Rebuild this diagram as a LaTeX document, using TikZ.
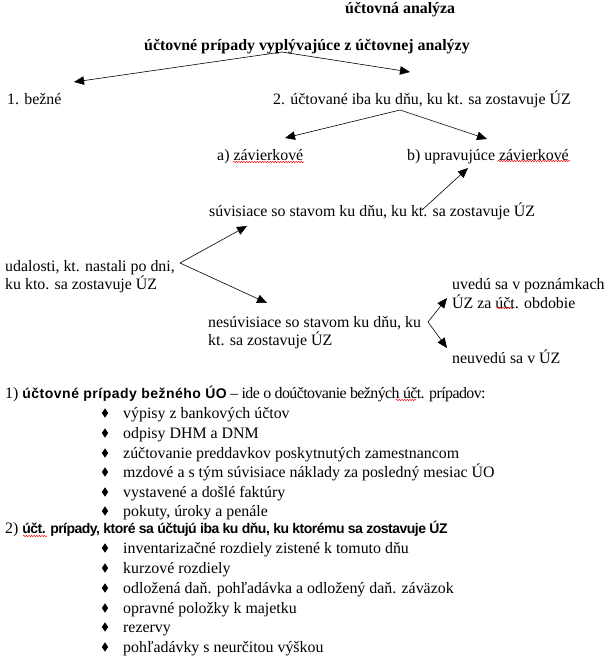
\documentclass[tikz,border=0pt]{standalone}
\usepackage{fontspec}
\setmainfont{Liberation Serif}
\newfontfamily\arialtight[LetterSpace=-3.7]{Liberation Sans}
\newfontfamily\arialspaced[LetterSpace=3.5]{Liberation Sans}
\newfontfamily\seriftight[LetterSpace=-3.6]{Liberation Serif}
\usetikzlibrary{arrows.meta,decorations.pathmorphing,shapes.geometric}
\begin{document}
\begin{tikzpicture}[x=1pt,y=-1pt,
  txt/.style={anchor=base west,inner sep=0pt,font=\fontsize{15.9}{18}\selectfont},
  head/.style={txt,font=\fontsize{15.9}{18}\selectfont\bfseries},
  arr/.style={-{Triangle[length=10pt,width=8.5pt]},line width=0.6pt},
  bul/.style={diamond,fill=black,inner sep=0pt,minimum width=6.5pt,minimum height=9.5pt},
  wavy/.style={red,line width=0.45pt,decorate,decoration={snake,amplitude=0.7pt,segment length=2.6pt}}]
\useasboundingbox[fill=white] (0,0) rectangle (610,662);

\node[head] (t1) at (345,13) {účtovná analýza};
\node[head] (t2) at (144,50) {účtovné prípady vyplývajúce z účtovnej analýzy};
\node[txt] (b1) at (7,104) {1. bežné};
\node[txt] (b2) at (273,104) {2. účtované iba ku dňu, ku kt. sa zostavuje ÚZ};
\node[txt] (za) at (217,160) {a) závierkové};
\node[txt] (zb) at (407,160) {b) upravujúce závierkové};
\node[txt] (su) at (209,216) {súvisiace so stavom ku dňu, ku kt. sa zostavuje ÚZ};
\node[txt] (ud1) at (5,271) {udalosti, kt. nastali po dni,};
\node[txt] (ud2) at (5,289) {ku kto. sa zostavuje ÚZ};
\node[txt] (ne1) at (208,327) {nesúvisiace so stavom ku dňu, ku};
\node[txt] (ne2) at (208,345) {kt. sa zostavuje ÚZ};
\node[txt] (uv1) at (452,289) {uvedú sa v poznámkach};
\node[txt] (uv2) at (452,308) {ÚZ za účt. obdobie};
\node[txt] (nu) at (452,363) {neuvedú sa v ÚZ};

\coordinate (v1) at (282,52);
\coordinate (e1) at (74,82);
\coordinate (e2) at (410,72);
\coordinate (v2) at (400,110);
\coordinate (e3) at (285,138);
\coordinate (e4) at (487,139);
\coordinate (s1) at (422,210);
\coordinate (e5) at (468,168);
\coordinate (v3) at (180,263);
\coordinate (e6) at (247,226);
\coordinate (e7) at (267,303);
\coordinate (v4) at (428,322);
\coordinate (e8) at (447,298);
\coordinate (e9) at (447,348);

\draw[arr] (v1) -- (e1);
\draw[arr] (v1) -- (e2);
\draw[arr] (v2) -- (e3);
\draw[arr] (v2) -- (e4);
\draw[arr] (s1) -- (e5);
\draw[arr] (v3) -- (e6);
\draw[arr] (v3) -- (e7);
\draw[arr] (v4) -- (e8);
\draw[arr] (v4) -- (e9);

% list 1
\node[txt] (l1) at (5,398) {1) {\fontsize{14}{16}\arialspaced\bfseries účtovné prípady bežného ÚO}{\seriftight{} – ide o doúčtovanie bežných účt. prípadov:}};
\foreach \yy/\tt [count=\i] in {413/výpisy z bankových účtov, 433/odpisy DHM a DNM, 453/zúčtovanie preddavkov poskytnutých zamestnancom, 472/mzdové a s tým súvisiace náklady za posledný mesiac ÚO, 492/vystavené a došlé faktúry, 511/{pokuty, úroky a penále}}{
  \node[bul] (da\i) at (105,\yy) {};
  \node[txt] (ia\i) at (123,\yy+5) {\tt};
}
\node[txt] (l2) at (5,533) {2) {\fontsize{14}{16}\arialtight\bfseries účt. prípady, ktoré sa účtujú iba ku dňu, ku ktorému sa zostavuje ÚZ}};
\foreach \yy/\tt [count=\i] in {548/inventarizačné rozdiely zistené k tomuto dňu, 568/kurzové rozdiely, 588/odložená daň. pohľadávka a odložený daň. záväzok, 608/opravné položky k majetku, 627/rezervy, 647/pohľadávky s neurčitou výškou}{
  \node[bul] (db\i) at (105,\yy) {};
  \node[txt] (ib\i) at (123,\yy+5) {\tt};
}

% spell-check underlines
\draw[wavy] (233,162) -- (304,162);
\draw[wavy] (498,161) -- (570,161);
\draw[wavy] (497,308) -- (513,308);
\draw[wavy] (396,400) -- (416,400);
\draw[wavy] (23,536) -- (47,536);
\end{tikzpicture}
\end{document}
